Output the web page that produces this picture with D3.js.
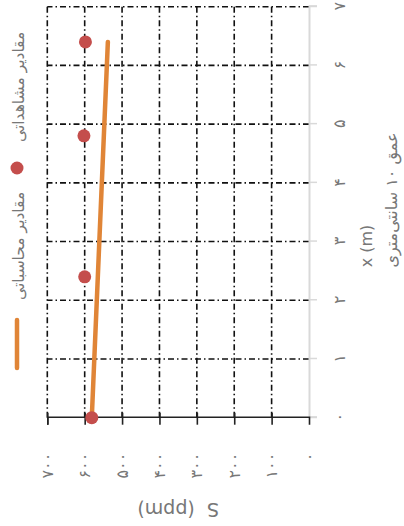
<!DOCTYPE html>
<html>
<head>
<meta charset="utf-8">
<script src="https://cdn.jsdelivr.net/npm/d3@7"></script>
<style>
  body { margin: 0; background: #fff; }
  text { font-family: "DejaVu Sans", sans-serif; fill: #777; }
</style>
</head>
<body>
<svg id="chart" width="404" height="526"></svg>
<script>
// Chart data
var xTicks = [0, 1, 2, 3, 4, 5, 6, 7];
var yTicks = [0, 100, 200, 300, 400, 500, 600, 700];
var obsX = [0, 2.4, 4.8, 6.4];
var obsS = [581, 600, 602, 598];
var calcX = [0, 6.4];
var calcS = [581, 538];
var legendLabels = ["مقادیر محاسباتی", "مقادیر مشاهداتی"];
var xTitle = "x (m)";
var xSubtitle = "عمق ۱۰ سانتی‌متری";
var yTitle = "S  (ppm)";

// chart is drawn upright in a 526x404 box, then turned a quarter to the left
var W = 526, H = 404;
var faDigits = "۰۱۲۳۴۵۶۷۸۹";
var fa = function(n) {
  return String(n).replace(/\d/g, function(d) { return faDigits[d]; });
};

var svg = d3.select("#chart");
var g = svg.append("g").attr("transform", "translate(0," + W + ") rotate(-90)");

var x = d3.scaleLinear().domain([0, 7]).range([108.3, 519.3]);
var y = d3.scaleLinear().domain([0, 700]).range([309, 47.3]);

/*
 * GRID
 * =============================== */
var dash = "6,3,1.5,3";
g.append("g").selectAll("line")
  .data(yTicks.filter(function(d) { return d > 0; }))
  .enter().append("line")
  .attr("x1", x(0)).attr("x2", x(7))
  .attr("y1", function(d) { return y(d); })
  .attr("y2", function(d) { return y(d); })
  .attr("stroke", "#111").attr("stroke-width", 1.6)
  .attr("stroke-dasharray", dash);

g.append("g").selectAll("line")
  .data(xTicks.filter(function(d) { return d > 0; }))
  .enter().append("line")
  .attr("x1", function(d) { return x(d); })
  .attr("x2", function(d) { return x(d); })
  .attr("y1", y(0)).attr("y2", y(700))
  .attr("stroke", "#111").attr("stroke-width", 1.6)
  .attr("stroke-dasharray", dash);

/*
 * AXES
 * =============================== */
var xAxis = g.append("g")
  .attr("transform", "translate(0," + y(0) + ")")
  .call(d3.axisBottom(x).tickValues(xTicks).tickSize(8).tickPadding(17).tickFormat(fa));
xAxis.select(".domain").attr("stroke", "#d9d9d9").attr("stroke-width", 2);
xAxis.selectAll(".tick line").attr("stroke", "#d9d9d9").attr("stroke-width", 1.5);
xAxis.selectAll(".tick text").attr("font-size", 16).style("fill", "#777");

var yAxis = g.append("g")
  .attr("transform", "translate(" + x(0) + ",0)")
  .call(d3.axisLeft(y).tickValues(yTicks).tickSize(7).tickPadding(28).tickFormat(fa));
yAxis.select(".domain").attr("stroke", "#222").attr("stroke-width", 1.6);
yAxis.selectAll(".tick line").attr("stroke", "#222").attr("stroke-width", 1.6).attr("x2", -7).attr("x1", 5);
yAxis.selectAll(".tick text").attr("font-size", 16).style("fill", "#777");
yAxis.selectAll(".tick").filter(function(d) { return d === 0; }).select("line").remove();

// titles
g.append("text")
  .attr("x", 280).attr("y", 372)
  .attr("text-anchor", "middle").attr("font-size", 16)
  .text(xTitle);
g.append("text")
  .attr("x", 326).attr("y", 397)
  .attr("text-anchor", "middle").attr("font-size", 16)
  .text(xSubtitle);
g.append("text")
  .attr("transform", "translate(18," + ((y(0) + y(700)) / 2) + ") rotate(-90)")
  .attr("text-anchor", "middle").attr("dominant-baseline", "middle")
  .attr("font-size", 19)
  .style("white-space", "pre")
  .text(yTitle);

/*
 * SERIES
 * =============================== */
var calc = calcX.map(function(d, i) { return [d, calcS[i]]; });
var obs = obsX.map(function(d, i) { return [d, obsS[i]]; });

g.append("path")
  .datum(calc)
  .attr("d", d3.line()
    .x(function(d) { return x(d[0]); })
    .y(function(d) { return y(d[1]); }))
  .attr("fill", "none")
  .attr("stroke", "#e08537")
  .attr("stroke-width", 4.5)
  .attr("stroke-linecap", "round");

g.append("g").selectAll("circle")
  .data(obs)
  .enter().append("circle")
  .attr("cx", function(d) { return x(d[0]); })
  .attr("cy", function(d) { return y(d[1]); })
  .attr("r", 6.5)
  .attr("fill", "#c44e4c");

/*
 * LEGEND
 * =============================== */
var legY = 17;
g.append("line")
  .attr("x1", 158).attr("x2", 206)
  .attr("y1", legY).attr("y2", legY)
  .attr("stroke", "#e08537").attr("stroke-width", 4.5)
  .attr("stroke-linecap", "round");
g.append("text")
  .attr("x", 226).attr("y", legY + 7)
  .attr("font-size", 15.5)
  .text(legendLabels[0]);
g.append("circle")
  .attr("cx", 358).attr("cy", legY).attr("r", 6.5)
  .attr("fill", "#c44e4c");
g.append("text")
  .attr("x", 384).attr("y", legY + 7)
  .attr("font-size", 15.5)
  .text(legendLabels[1]);
</script>
</body>
</html>
